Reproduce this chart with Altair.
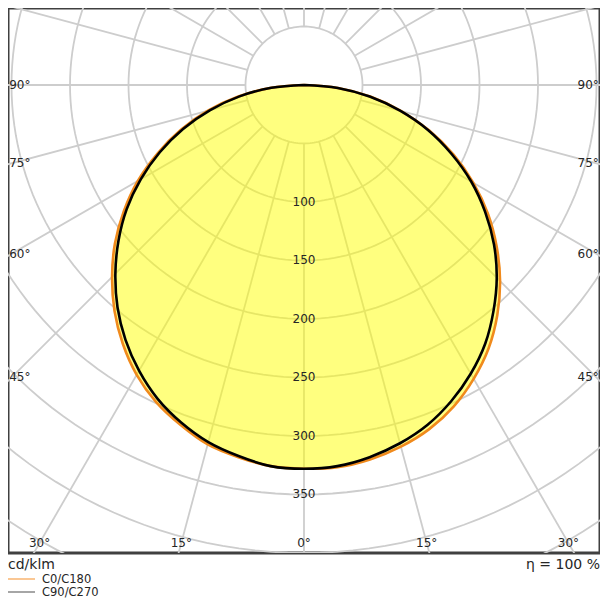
import altair as alt
import pandas as pd
import numpy as np

# ---------------- data ----------------
GAMMA = [0, 5, 10, 15, 20, 25, 30, 35, 40, 45, 50, 55, 60, 65, 70, 75, 80, 85, 90]
C0 = [328, 328, 325, 320, 313, 303, 290, 275, 257, 237, 215, 192, 167, 141, 114, 86, 58, 29, 0]
C180 = [328, 327, 323, 318, 309, 299, 286, 270, 252, 232, 211, 188, 164, 138, 112, 85, 57, 29, 0]
C90 = [328, 327, 323, 317, 309, 298, 285, 270, 252, 233, 212, 189, 165, 139, 113, 85, 57, 29, 0]
C270 = [328, 327, 322, 316, 307, 296, 282, 266, 248, 228, 207, 185, 161, 136, 110, 83, 56, 28, 0]

RING_LABELS = [100, 150, 200, 250, 300, 350]
GRID_RADII = [50, 100, 150, 200, 250, 300, 350, 400, 450, 500]
GRID_SPOKES = list(range(0, 360, 15))
SIDE_ANGLE_LABELS = [90, 75, 60, 45]
BOTTOM_ANGLE_LABELS = [-30, -15, 0, 15, 30]
LEGEND_LABELS = ["C0/C180", "C90/C270"]
LEGEND_COLORS = ["#f6a24c", "#6a6a6a"]
UNIT_LABEL = "cd/klm"
EFFICIENCY_LABEL = "η = 100 %"

X_DOMAIN = [-253, 253]
Y_DOMAIN = [-400, 65.8]
SIDE_DIST = 249.6     # horizontal distance (cd units) at which side labels sit
BOTTOM_DIST = 391.5   # vertical distance (cd units) at which bottom labels sit

FONT = "DejaVu Sans"
TXT = "#262626"

# ---------------- tables built from the lists ----------------
def curve_table(name, left, right):
    rows = []
    k = 0
    for g, v in zip(reversed(GAMMA), reversed(left)):
        rows.append({"curve": name, "i": k, "t": -g, "I": v}); k += 1
    for g, v in zip(GAMMA[1:], right[1:]):
        rows.append({"curve": name, "i": k, "t": g, "I": v}); k += 1
    return pd.DataFrame(rows)

df_c0 = curve_table("C0/C180", C180, C0)
df_c90 = curve_table("C90/C270", C270, C90)

circ_angles = np.arange(0, 362, 2)
df_circ = pd.DataFrame([{"r": r, "a": a} for r in GRID_RADII for a in circ_angles])
df_spk = pd.DataFrame({"a": GRID_SPOKES})
df_rings = pd.DataFrame({"r": RING_LABELS})
df_side = pd.DataFrame({"a": SIDE_ANGLE_LABELS})
df_bottom = pd.DataFrame({"a": BOTTOM_ANGLE_LABELS})

xs = alt.Scale(domain=X_DOMAIN, nice=False, zero=False)
ys = alt.Scale(domain=Y_DOMAIN, nice=False, zero=False)
X = lambda f: alt.X(f, type="quantitative", scale=xs, axis=None)
Y = lambda f: alt.Y(f, type="quantitative", scale=ys, axis=None)

polar = dict(x="datum.I*sin(datum.t*PI/180)", y="-datum.I*cos(datum.t*PI/180)")

circles = alt.Chart(df_circ).transform_calculate(
    x="datum.r*sin(datum.a*PI/180)", y="-datum.r*cos(datum.a*PI/180)"
).mark_line(stroke="#cdcdcd", strokeWidth=1.8, clip=True).encode(
    x=X("x"), y=Y("y"), detail="r:N", order="a:Q"
)

spokes = alt.Chart(df_spk).transform_calculate(
    x1="50*sin(datum.a*PI/180)", y1="-50*cos(datum.a*PI/180)",
    x2="800*sin(datum.a*PI/180)", y2="-800*cos(datum.a*PI/180)"
).mark_rule(stroke="#cdcdcd", strokeWidth=1.8, clip=True).encode(
    x=X("x1"), y=Y("y1"), x2="x2:Q", y2="y2:Q"
)

fill = alt.Chart(df_c0).transform_calculate(**polar).mark_line(
    fill="#ffff00", fillOpacity=0.5, stroke="#ffff00", strokeOpacity=0, strokeWidth=0,
    interpolate="catmull-rom"
).encode(x=X("x"), y=Y("y"), order="i:Q")

orange = alt.Chart(df_c0).transform_calculate(**polar).mark_line(
    stroke="#f08a1c", strokeWidth=2.6, interpolate="catmull-rom"
).encode(x=X("x"), y=Y("y"), order="i:Q")

black = alt.Chart(df_c90).transform_calculate(**polar).mark_line(
    stroke="#000000", strokeWidth=2.6, interpolate="catmull-rom"
).encode(x=X("x"), y=Y("y"), order="i:Q")

ring_text = alt.Chart(df_rings).transform_calculate(
    x="0", y="-datum.r", label="'' + datum.r"
).mark_text(font=FONT, fontSize=12, color=TXT, align="center", baseline="middle").encode(
    x=X("x"), y=Y("y"), text="label:N"
)

left_text = alt.Chart(df_side).transform_calculate(
    x=f"{X_DOMAIN[0]} + 1", y=f"datum.a == 90 ? 0 : -{SIDE_DIST}/tan(datum.a*PI/180)",
    label="datum.a + '°'"
).mark_text(font=FONT, fontSize=12, color=TXT, align="left", baseline="middle").encode(
    x=X("x"), y=Y("y"), text="label:N"
)

right_text = alt.Chart(df_side).transform_calculate(
    x=f"{X_DOMAIN[1]} - 1", y=f"datum.a == 90 ? 0 : -{SIDE_DIST}/tan(datum.a*PI/180)",
    label="datum.a + '°'"
).mark_text(font=FONT, fontSize=12, color=TXT, align="right", baseline="middle").encode(
    x=X("x"), y=Y("y"), text="label:N"
)

bottom_text = alt.Chart(df_bottom).transform_calculate(
    x=f"{BOTTOM_DIST}*tan(datum.a*PI/180)", y=f"-{BOTTOM_DIST}",
    label="abs(datum.a) + '°'"
).mark_text(font=FONT, fontSize=12, color=TXT, align="center", baseline="middle").encode(
    x=X("x"), y=Y("y"), text="label:N"
)

one = pd.DataFrame({"k": [0]})
unit = alt.Chart(one).mark_text(font=FONT, fontSize=14, color=TXT, align="left",
                                baseline="middle").encode(
    x=alt.value(0), y=alt.value(557), text=alt.value(UNIT_LABEL))
eff = alt.Chart(one).mark_text(font=FONT, fontSize=14, color=TXT, align="right",
                               baseline="middle").encode(
    x=alt.value(592), y=alt.value(557), text=alt.value(EFFICIENCY_LABEL))

legend_layers = []
for n, (lab, col) in enumerate(zip(LEGEND_LABELS, LEGEND_COLORS)):
    yy = 571 + n * 13
    legend_layers.append(alt.Chart(one).mark_rule(stroke=col, strokeWidth=1.2).encode(
        x=alt.value(0), x2=alt.value(27), y=alt.value(yy)))
    legend_layers.append(alt.Chart(one).mark_text(font=FONT, fontSize=11.5, color=TXT,
                                                  align="left", baseline="middle").encode(
        x=alt.value(34), y=alt.value(yy + 0.5), text=alt.value(lab)))

chart = alt.layer(
    circles, spokes, fill, orange, black, ring_text, left_text, right_text, bottom_text,
    unit, eff, *legend_layers
).properties(
    width=592, height=545,
    autosize=alt.AutoSizeParams(type="none"),
    padding={"left": 0, "top": 0, "right": 0, "bottom": 47},
).configure_view(stroke="#404040", strokeWidth=3, fill="white")

chart.save("out.html", embed_options={"renderer": "svg", "actions": False})
